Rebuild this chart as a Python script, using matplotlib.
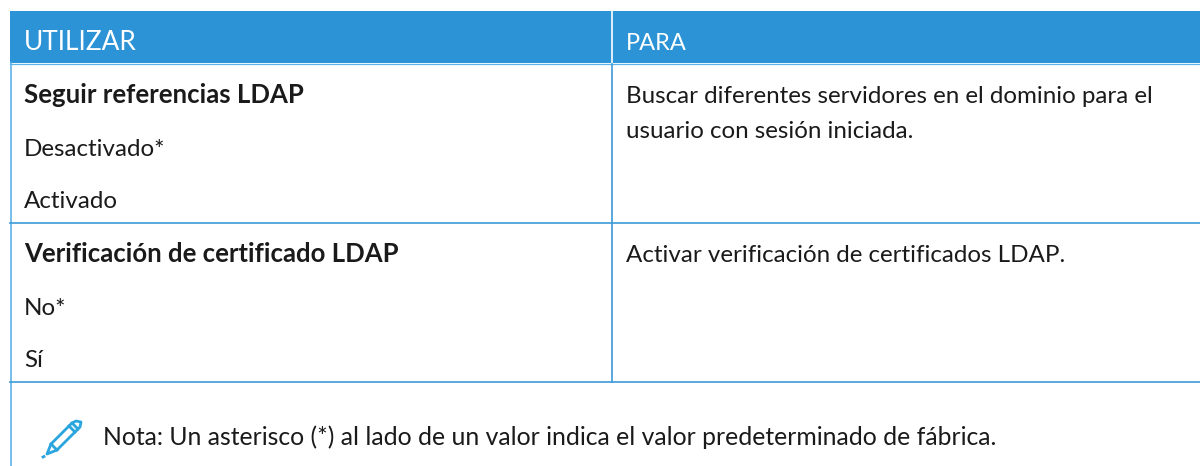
import matplotlib
matplotlib.use("Agg")
import matplotlib.pyplot as plt
from matplotlib.patches import Rectangle, Polygon

plt.rcParams['font.family'] = ['Lato', 'DejaVu Sans']

# table content
headers = ["UTILIZAR", "PARA"]
left_col = [
    ("Seguir referencias LDAP", True, 103),
    ("Desactivado*", False, 156),
    ("Activado", False, 208),
    ("Verificación de certificado LDAP", True, 262),
    ("No*", False, 315),
    ("Sí", False, 367),
]
right_col = [
    ("Buscar diferentes servidores en el dominio para el", 103),
    ("usuario con sesión iniciada.", 138),
    ("Activar verificación de certificados LDAP.", 262),
]
note = "Nota: Un asterisco (*) al lado de un valor indica el valor predeterminado de fábrica."

HEADER = "#2b93d6"
LINE = "#3d9ad9"
BORDER = "#5db3ea"
TEXT = "#1a1a1a"

fig = plt.figure(figsize=(12, 4.66), dpi=100)
ax = fig.add_axes([0, 0, 1, 1])
ax.set_xlim(0, 1200)
ax.set_ylim(466, 0)
ax.axis("off")

# header band
ax.add_patch(Rectangle((10, 11), 1190, 52, color=HEADER, lw=0))
ax.plot([612, 612], [11, 63], color="white", lw=1.2)
ax.plot([10, 1200], [63.5, 63.5], color=BORDER, lw=0.9)
ax.text(24, 50, headers[0], color="white", fontsize=18.9, va="baseline")
ax.text(626, 50, headers[1], color="white", fontsize=17, va="baseline")

# grid lines
ax.plot([10.5, 10.5], [63, 466], color=BORDER, lw=1.2)
ax.plot([612, 612], [64, 382], color=LINE, lw=1.2)
ax.plot([10, 1200], [223, 223], color=LINE, lw=1.2)
ax.plot([10, 1200], [382, 382], color=LINE, lw=1.2)

for s, bold, y in left_col:
    if bold:
        ax.text(24, y, s, color=TEXT, fontsize=18.5, va="baseline", fontweight="bold")
    else:
        ax.text(24, y, s, color=TEXT, fontsize=17.4, va="baseline")
for s, y in right_col:
    ax.text(626, y, s, color=TEXT, fontsize=17.35, va="baseline")

ax.text(103, 445, note, color=TEXT, fontsize=17.8, va="baseline")

# pencil icon
icon = "#2aa5de"
ax.add_patch(Polygon([(72, 423), (78, 429), (57, 450), (47, 454), (51, 444)],
                     closed=True, fill=False, edgecolor=icon, lw=2, joinstyle="round"))
ax.plot([69, 75], [426, 432], color=icon, lw=2)
ax.plot([51, 57], [444, 450], color=icon, lw=2)
ax.plot([72, 76, 81, 80, 78], [423, 421, 422, 427, 429], color=icon, lw=2)
ax.plot([43, 44], [457, 456.5], color=icon, lw=2)

fig.savefig("out.png", dpi=100)
